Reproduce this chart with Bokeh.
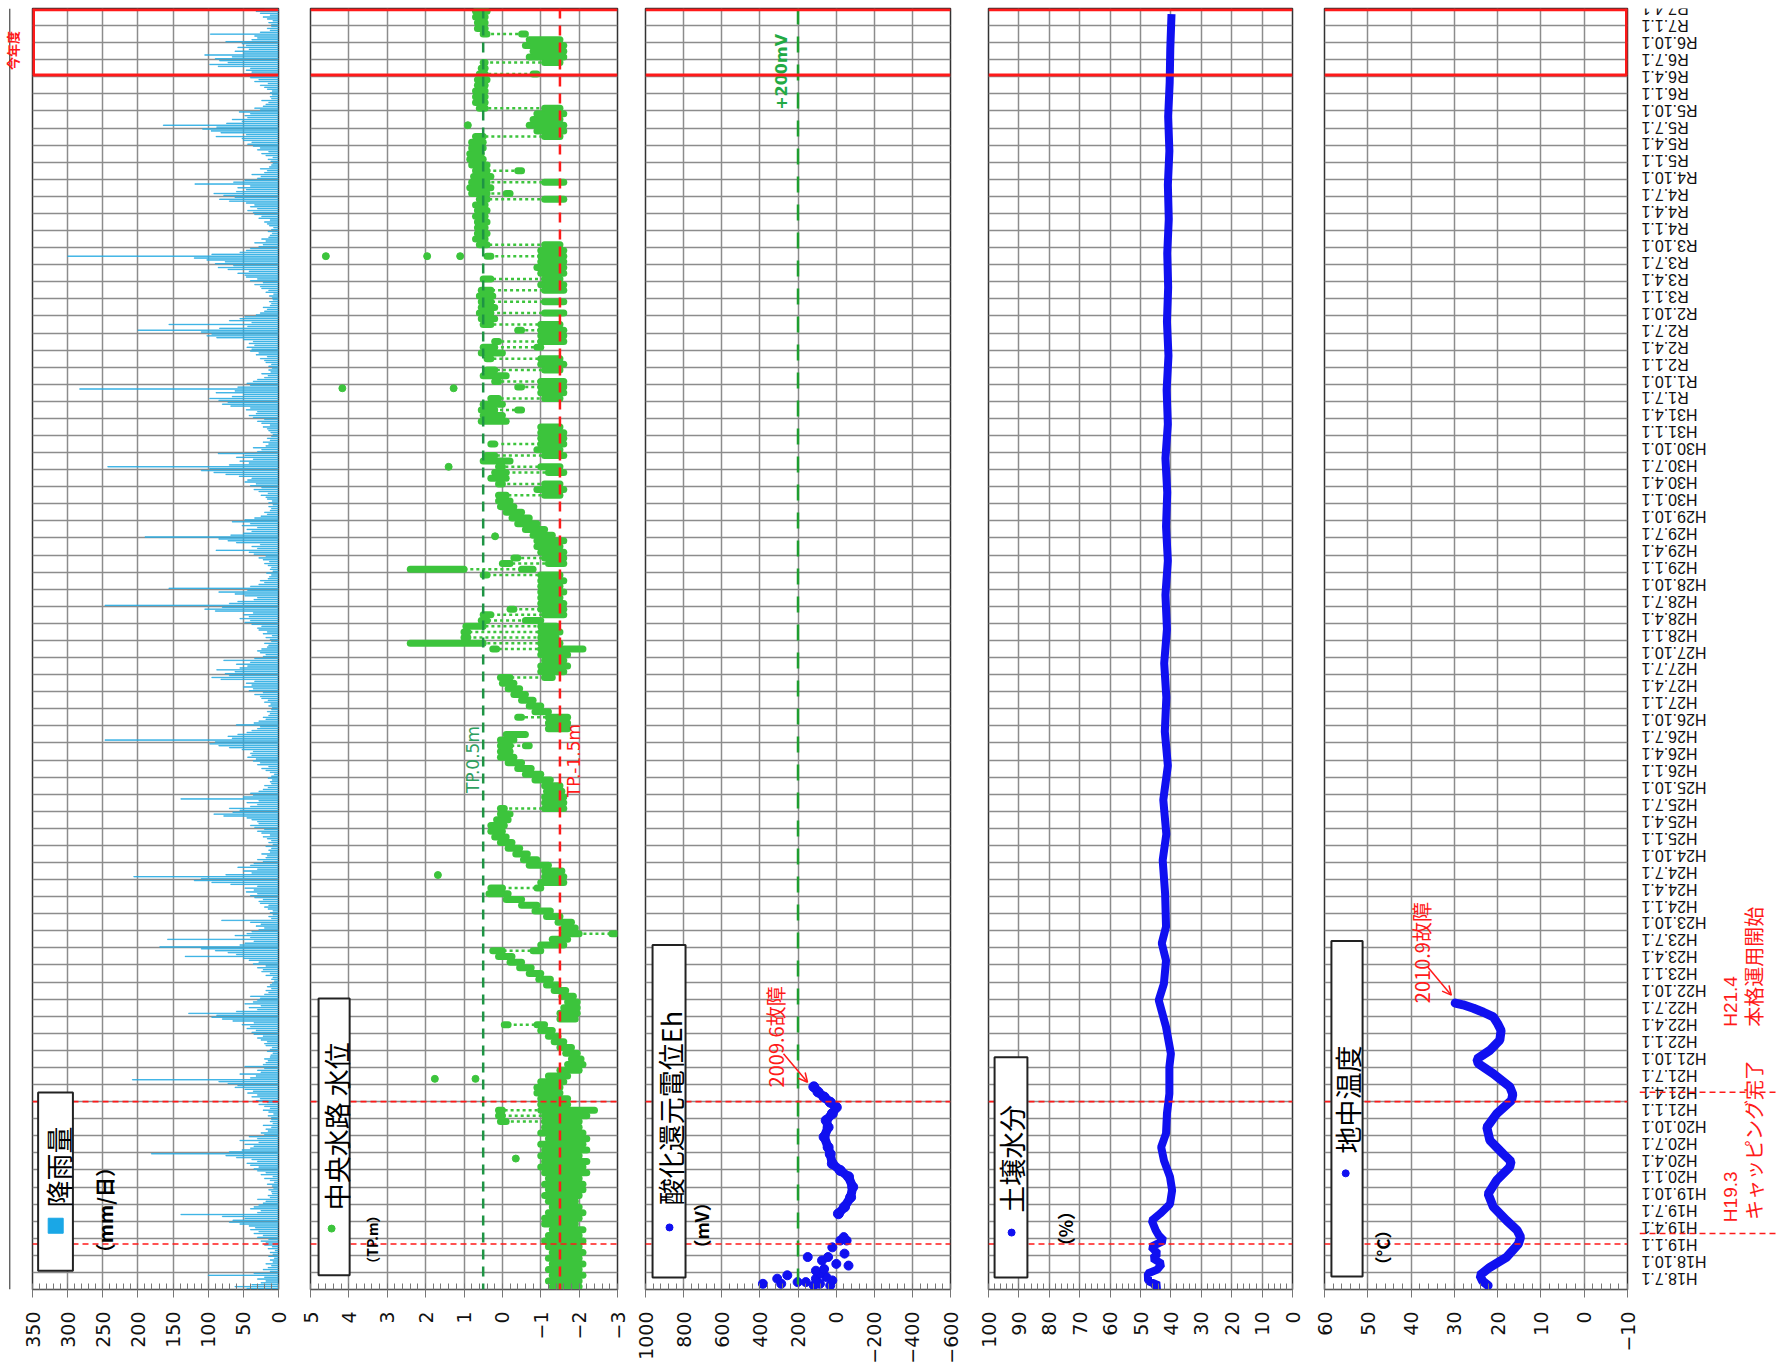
import math
from bokeh.core.properties import value
from bokeh.embed import file_html
from bokeh.resources import INLINE
from bokeh.layouts import row
from bokeh.plotting import figure
from bokeh.models import (Range1d, FixedTicker, SingleIntervalTicker, BoxAnnotation,
                          Label, Span, Arrow, OpenHead)

# ---- data (time axis = months since H18.7.1 / 2006-07-01) ----
# daily rainfall peaks, 3 per month (mm/day)
rain_2006 = [45, 62, 38, 25, 18, 30, 20, 100, 35, 12, 22, 15, 10, 18, 8, 12, 6, 14]
rain_2007 = [8, 12, 5, 15, 9, 20, 18, 25, 14, 30, 22, 35, 28, 40, 33, 42, 55, 70,
             65, 48, 80, 139, 30, 25, 40, 35, 28, 22, 18, 30, 12, 15, 9, 10, 14, 7]
rain_2008 = [9, 16, 6, 12, 20, 8, 25, 18, 30, 35, 28, 40, 45, 30, 38, 60, 75, 181,
             70, 52, 40, 35, 48, 28, 55, 30, 42, 20, 25, 15, 18, 10, 22, 8, 12, 10]
rain_2009 = [10, 15, 7, 14, 22, 12, 20, 28, 16, 32, 26, 38, 30, 44, 36, 48, 62, 58,
             72, 85, 208, 40, 32, 55, 25, 30, 20, 48, 22, 18, 15, 20, 12, 11, 8, 16]
rain_2010 = [12, 9, 18, 20, 16, 25, 30, 22, 35, 38, 32, 45, 40, 52, 35, 65, 80, 95,
             88, 128, 60, 30, 42, 25, 48, 36, 30, 26, 40, 20, 14, 18, 10, 16, 12, 9]
rain_2011 = [6, 10, 8, 18, 12, 24, 22, 30, 18, 36, 28, 42, 50, 133, 60, 72, 90, 110,
             169, 55, 48, 35, 158, 40, 62, 45, 38, 28, 20, 32, 25, 40, 81, 10, 14, 8]
rain_2012 = [12, 8, 15, 20, 14, 26, 28, 22, 34, 40, 30, 46, 35, 48, 30, 68, 95, 120,
             110, 206, 75, 38, 50, 30, 58, 40, 35, 22, 30, 18, 16, 24, 12, 14, 10, 18]
rain_2013 = [8, 14, 10, 16, 22, 12, 24, 30, 20, 34, 40, 28, 30, 38, 45, 78, 92, 65,
             55, 70, 40, 30, 45, 28, 139, 50, 36, 40, 28, 22, 15, 20, 10, 12, 9, 15]
rain_2014 = [10, 6, 12, 18, 24, 14, 30, 26, 36, 32, 44, 38, 40, 36, 52, 70, 85, 98,
             90, 247, 66, 72, 58, 45, 38, 30, 26, 60, 35, 28, 18, 22, 14, 12, 16, 10]
rain_2015 = [9, 14, 11, 20, 15, 24, 26, 34, 22, 42, 36, 50, 38, 46, 34, 82, 95, 70,
             76, 62, 88, 55, 44, 60, 40, 78, 34, 22, 18, 26, 30, 24, 16, 14, 20, 10]
rain_2016 = [12, 18, 9, 22, 16, 28, 30, 24, 38, 48, 40, 55, 42, 50, 36, 90, 105, 80,
             247, 70, 58, 35, 30, 48, 62, 85, 44, 156, 40, 28, 20, 26, 15, 13, 10, 17]
rain_2017 = [8, 12, 10, 15, 20, 13, 22, 28, 18, 35, 42, 89, 30, 38, 26, 60, 72, 85,
             190, 68, 50, 38, 45, 30, 52, 40, 66, 48, 34, 25, 16, 20, 12, 10, 14, 8]
rain_2018 = [14, 9, 16, 18, 25, 15, 28, 35, 24, 40, 32, 48, 44, 38, 56, 75, 92, 110,
             98, 243, 70, 42, 55, 36, 60, 48, 86, 30, 24, 36, 18, 14, 22, 12, 16, 10]
rain_2019 = [8, 11, 14, 16, 22, 12, 24, 30, 20, 36, 42, 32, 30, 46, 40, 68, 80, 72,
             85, 98, 66, 50, 89, 62, 283, 58, 40, 45, 36, 30, 20, 15, 24, 11, 14, 9]
rain_2020 = [14, 10, 18, 20, 26, 16, 32, 28, 40, 38, 45, 34, 42, 36, 50, 88, 102, 95,
             110, 200, 84, 44, 156, 38, 70, 55, 48, 32, 26, 20, 16, 22, 12, 10, 13, 8]
rain_2021 = [9, 13, 7, 18, 14, 24, 26, 34, 22, 40, 30, 46, 48, 58, 42, 72, 86, 64,
             90, 76, 102, 120, 300, 95, 55, 46, 40, 28, 22, 34, 18, 24, 14, 12, 9, 15]
rain_2022 = [10, 7, 13, 16, 20, 12, 28, 24, 34, 36, 44, 30, 40, 34, 46, 70, 84, 62,
             78, 92, 60, 46, 58, 40, 119, 64, 48, 30, 25, 38, 20, 16, 26, 13, 10, 8]
rain_2023 = [11, 15, 8, 18, 24, 14, 30, 26, 36, 44, 38, 50, 52, 89, 46, 82, 96, 108,
             88, 164, 74, 52, 66, 44, 48, 40, 56, 26, 34, 22, 18, 14, 24, 10, 12, 9]
rain_2024 = [12, 9, 16, 20, 26, 15, 34, 28, 40, 42, 50, 38, 46, 40, 86, 98, 72, 84,
             90, 66, 105, 50, 62, 42, 58, 46, 52, 75, 38, 30, 34, 97, 26, 12, 16, 10]
rain_2025 = [10, 14, 8, 16, 22, 12, 26, 32, 20]

# central channel water level (TP.m): main band per month, low / high
wl_lo = [
    -2.0, -2.0, -2.1, -2.0, -2.1, -2.0,                                              # 2006
    -2.1, -2.0, -2.1, -2.0, -2.1, -1.9, -2.0, -2.1, -2.0, -1.9, -2.0, -2.1,          # 2007
    -2.1, -2.0, -2.2, -2.1, -2.2, -2.0, -2.2, -2.1, -2.2, -2.1, -2.0, -2.0,          # 2008
    -2.2, -2.4, -1.7, -1.7, -1.5, -1.5, -1.6, -1.7, -2.0, -2.1, -2.05, -1.95,        # 2009
    -1.8, -1.6, -1.45, -1.3, -1.1, -1.9, -1.95, -1.95, -1.95, -1.85, -1.65, -1.45,   # 2010
    -1.25, -1.0, -0.75, -0.5, -0.25, 0.0, -1.6, -1.7, -2.0, -1.9, -1.8, -1.5,        # 2011
    -1.25, -0.9, -0.5, -0.15, 0.0, -1.6, -1.6, -1.55, -1.2, -0.9, -0.65, -0.45,      # 2012
    -0.25, -0.1, 0.0, -0.05, -0.15, -0.2, -1.6, -1.6, -1.6, -1.55, -1.5, -1.25,      # 2013
    -1.0, -0.75, -0.5, -0.3, -0.2, -0.2, -0.3, -0.6, -1.7, -1.7, -1.7, -1.2,         # 2014
    -1.0, -0.8, -0.6, -0.45, -0.3, -0.2, -1.6, -1.7, -1.6, -1.7, -2.1, -1.5,         # 2015
    -1.4, -1.5, -1.4, -1.0, -1.6, -1.6, -1.6, -1.5, -1.6, -1.5, -1.6, -1.5,          # 2016
    -0.8, -0.2, -1.6, -1.6, -1.5, -1.6, -1.3, -1.1, -0.9, -0.7, -0.5, -0.3,          # 2017
    -0.2, -0.1, -1.6, -1.5, -0.1, -0.1, -1.5, -0.2, 0.2, -1.5, -1.6, -1.6,           # 2018
    -1.6, -1.5, -0.1, 0.0, 0.2, 0.0, 0.1, -1.6, -1.6, -1.6, -0.1, 0.2,               # 2019
    -1.6, -1.5, 0.0, 0.2, -1.6, -1.6, -1.6, -1.5, 0.2, 0.3, 0.2, 0.3,                # 2020
    0.25, 0.3, -1.6, 0.3, -1.6, -1.6, -1.6, -1.6, -1.6, 0.4, 0.45, 0.4,              # 2021
    0.45, 0.4, 0.45, 0.4, 0.45, 0.4, 0.4, 0.3, 0.4, 0.3, 0.4, 0.4,                   # 2022
    0.5, 0.55, 0.5, 0.5, 0.5, -1.6, -1.6, -1.5, -1.6, 0.45, 0.45, 0.45,              # 2023
    0.45, 0.45, 0.4, 0.45, 0.45, 0.45, -1.6, -1.6, -1.6, -1.5, 0.4, 0.45,            # 2024
    0.45, 0.45, 0.4,                                                                 # 2025
]
wl_hi = [
    -1.3, -1.2, -1.3, -1.2, -1.3, -1.2,
    -1.3, -1.2, -1.1, -1.2, -1.3, -1.1, -1.1, -1.2, -1.3, -1.2, -1.1, -1.2,
    -1.1, -1.2, -1.1, -1.0, -1.1, -1.0, -1.1, -1.0, -1.2, -1.0, -1.1, -1.1,
    -1.1, -1.0, -1.0, -1.0, -0.9, -0.9, -1.0, -1.2, -1.5, -1.7, -1.8, -1.65,
    -1.5, -1.35, -1.2, -1.0, -0.9, -1.5, -1.5, -1.6, -1.7, -1.55, -1.35, -1.15,
    -0.95, -0.7, -0.45, -0.2, 0.1, 0.25, -1.0, -1.3, -1.6, -1.6, -1.45, -1.15,
    -0.85, -0.5, -0.1, 0.35, 0.3, -1.0, -1.1, -1.1, -0.7, -0.55, -0.35, -0.15,
    0.05, 0.2, 0.3, 0.3, 0.15, 0.05, -1.1, -1.1, -1.1, -1.15, -1.1, -0.85,
    -0.6, -0.4, -0.15, 0.05, 0.05, 0.05, 0.05, -0.1, -1.2, -1.2, -1.2, -0.85,
    -0.7, -0.5, -0.3, -0.15, 0.0, 0.05, -1.0, -1.0, -1.1, -1.0, -1.0, -1.0,
    -1.0, -1.0, -1.0, -0.6, -1.1, -1.0, -1.0, -1.0, -1.0, -1.0, -1.0, -1.0,
    -0.5, 0.0, -1.1, -1.0, -0.9, -0.9, -0.8, -0.6, -0.4, -0.25, -0.1, 0.05,
    0.1, 0.1, -0.9, -1.1, 0.3, 0.2, -1.0, 0.5, 0.4, -0.9, -1.0, -1.0,
    -1.0, -1.0, 0.55, 0.5, 0.55, 0.5, 0.3, -1.0, -1.0, -1.0, 0.5, 0.4,
    -1.0, -1.0, 0.55, 0.5, -1.0, -1.0, -1.0, -1.0, 0.55, 0.6, 0.55, 0.55,
    0.6, 0.55, -1.0, 0.5, -1.0, -0.9, -1.0, -1.0, -1.0, 0.6, 0.7, 0.65,
    0.65, 0.65, 0.7, 0.65, 0.7, 0.6, 0.8, 0.85, 0.8, 0.75, 0.7, 0.8,
    0.85, 0.85, 0.8, 0.8, 0.7, -0.9, -0.7, -0.8, -0.9, 0.6, 0.7, 0.7,
    0.7, 0.65, 0.65, 0.6, 0.55, 0.5, -0.7, -0.8, -0.6, -0.7, 0.5, 0.65,
    0.65, 0.7, 0.7,
]
# second level reached in the same month (quick rises / falls)
wl2_m = [29, 30, 31, 46, 59, 62, 70, 84, 95, 100, 107, 112, 113, 114, 115, 116, 117,
         118, 119, 125, 126, 127, 128, 139, 141, 143, 144, 146, 148, 154, 156, 158,
         159, 161, 163, 165, 166, 168, 169, 171, 173, 175, 177, 181, 183, 191, 192,
         194, 196, 202, 207, 213, 215, 220]
wl2_lo = [-0.1, 0.0, 0.0, -0.15, -1.0, -2.95, -1.0, -0.05, -0.7, -0.5, -1.3, 0.15, 0.5,
          0.9, 0.9, 0.5, 0.4, 0.3, -0.3, 0.4, 1.0, -1.6, -0.4, -1.5, 0.0, -1.6, 0.0,
          -1.6, 0.2, -0.5, -1.5, -0.5, 0.1, -1.5, 0.3, -1.0, 0.1, -0.5, 0.3, -1.6,
          -1.6, -1.6, -1.5, 0.3, -1.5, -1.6, -0.2, -1.6, -0.5, -1.5, -1.5, -0.9, -1.5,
          -0.6]
wl2_hi = [0.05, 0.1, 0.1, -0.05, -0.8, -2.85, -0.9, 0.05, -0.6, -0.4, -1.1, 0.25, 2.4,
          1.0, 1.0, 0.95, 0.55, 0.5, -0.2, 0.5, 2.4, -1.2, -0.3, -1.1, 0.1, -1.2, 0.1,
          -1.1, 0.3, -0.4, -1.1, -0.4, 0.2, -1.1, 0.4, -0.9, 0.2, -0.4, 0.5, -1.1,
          -1.1, -1.1, -1.1, 0.4, -1.1, -1.1, -0.1, -1.1, -0.4, -1.1, -1.1, -0.8, -1.1,
          -0.5]
wl_out_m = [23.0, 37.0, 37.0, 72.8, 132.3, 144.5, 158.3, 158.3, 181.5, 181.5, 181.5, 204.5]
wl_out_v = [-0.35, 1.76, 0.7, 1.68, 0.19, 1.4, 4.17, 1.27, 4.6, 1.96, 1.1, 0.9]

# redox potential Eh (mV)
eh_pts_m = [0.7, 0.7, 1.0, 1.0, 1.0, 1.3, 1.3, 1.6, 1.9, 1.9, 2.2, 2.5, 2.8, 3.3, 3.6,
            4.2, 4.5, 5.1, 5.7, 5.7, 6.3, 7.4, 8.6, 8.6, 9.2]
eh_pts_v = [31, 117, 384, 288, 85, 202, 159, 20, 309, 106, 52, 256, 85, 106, 63,
            -65, -1, 74, 149, 42, -44, 20, -22, -55, -40]
eh_m = [13.3, 14.5, 16.2, 18.0, 19.8, 20.9, 22.1, 23.8, 25.0, 26.8, 28.5, 29.7,
        30.9, 32.0, 32.9, 33.8, 34.7, 35.6]
eh_v = [-12, -44, -76, -87, -65, -22, 20, 31, 42, 63, 42, 52, 20, -1, 31, 63, 95, 117]

# soil moisture (%)
sm_m = [0.0, 0.7, 1.5, 2.8, 3.5, 4.5, 5.5, 6.3, 7.5, 8.6, 9.5, 10.4, 12.1, 13.3, 15.0,
        17.4, 19.8, 22.7, 25.0, 27.4, 30.9, 34.4, 39.1, 41.4, 46.1, 50.8, 53.7, 57.8,
        60.8, 63.7, 69.5, 75.4, 80, 86, 92, 98, 104, 110, 116, 122, 128, 134, 140,
        146, 152, 158, 164, 170, 176, 182, 188, 194, 200, 206, 212, 218, 221, 224]
sm_v = [46, 44, 47.5, 47.6, 44.5, 43, 46, 44.3, 46.5, 42.3, 44, 45, 46.3, 43.6, 40.3,
        39.6, 40.3, 42.3, 43.2, 41.6, 41.3, 40.5, 40.5, 40, 41.6, 44, 42.3, 41.6,
        43, 41.6, 41.9, 42.7, 41.5, 42.5, 41, 42, 41.5, 42.2, 41.3, 41.8, 41, 41.6, 41.2,
        41.8, 41, 41.4, 40.8, 41.3, 40.9, 41.2, 40.7, 41, 40.5, 40.9, 40.4, 40.2, 40.0, 39.8]

# soil temperature (deg C)
st_m = [0.7, 1.5, 2.5, 3.9, 5.7, 8.0, 9.2, 10.4, 12.1, 14.5, 16.8, 19.2, 21.5, 22.5,
        23.8, 26.2, 28.5, 30.9, 33.2, 34.3, 35.6, 37.9, 39.7, 40.5, 42.0, 43.8, 45.5,
        46.7, 47.9, 48.7, 49.4, 50.0, 50.3]
st_v = [22.2, 23.5, 24.1, 21.8, 17.9, 15.2, 14.7, 15.5, 17.9, 21.0, 22.2, 20.2, 17.2,
        16.9, 18.7, 21.8, 22.5, 20.2, 16.8, 16.5, 17.2, 21.0, 24.5, 24.8, 21.8, 19.5,
        19.2, 20.0, 21.0, 23.3, 25.6, 28.0, 29.8]

# ---- layout ----
H = 1366
TOP, BOTTOM = 8, 77
M_END = 225
BLUE = "#1010F0"
GREEN = "#3CC43C"
RED = "#FF1A1A"
JP = "Noto Sans CJK JP"

quarter_ticks = list(range(0, M_END + 1, 3))
month_ticks = list(range(0, M_END + 1))


def time_label(m):
    year = 2006 + (6 + m) // 12
    month = (6 + m) % 12 + 1
    if (year, month) >= (2019, 5):
        return f"R{year - 2018}.{month}.1"
    return f"H{year - 1988}.{month}.1"


def bare(width, xr, yr, b_top, b_bottom):
    p = figure(width=width, height=H, x_range=Range1d(*xr), y_range=yr,
               x_axis_location=None, y_axis_location=None, toolbar_location=None,
               tools="", output_backend="svg", min_border_left=0, min_border_right=0,
               min_border_top=b_top, min_border_bottom=b_bottom)
    p.outline_line_color = None
    p.xgrid.visible = False
    p.ygrid.visible = False
    return p


def make_panel(width, xr, interval, b_left, b_right):
    p = figure(width=width, height=H, x_range=Range1d(*xr), y_range=Range1d(0, M_END),
               y_axis_location=None, toolbar_location=None,
               tools="", output_backend="svg", min_border_left=b_left,
               min_border_right=b_right, min_border_top=TOP, min_border_bottom=BOTTOM)
    p.outline_line_color = "#333333"
    p.outline_line_width = 1.5
    xt = SingleIntervalTicker(interval=interval, num_minor_ticks=5)
    p.xaxis.ticker = xt
    p.xgrid.ticker = xt
    p.ygrid.ticker = FixedTicker(ticks=quarter_ticks)
    for g in (p.xgrid, p.ygrid):
        g.grid_line_color = "#8c8c8c"
        g.grid_line_width = 1.5
    ax = p.xaxis[0]
    ax.axis_line_color = "#555555"
    ax.major_tick_line_color = "#777777"
    ax.minor_tick_line_color = "#777777"
    ax.major_tick_out = 8
    ax.major_tick_in = 0
    ax.minor_tick_in = 6
    ax.minor_tick_out = 0
    ax.major_label_orientation = math.pi / 2
    ax.major_label_standoff = 14
    ax.major_label_text_font = "DejaVu Sans"
    ax.major_label_text_font_size = "19px"
    ax.major_label_text_color = "#111111"
    return p


def vlabel(p, x, y, text, size, color="black", font=JP, style="normal"):
    p.add_layout(Label(x=x, y=y, text=text, angle=math.pi / 2, text_align="left",
                       text_baseline="middle", text_font=font, text_font_size=size,
                       text_color=color, text_font_style=style))


def legend(p, box, text, tx, ty, unit, ux, uy, usize):
    left, right, bottom, top = box
    p.add_layout(BoxAnnotation(left=left, right=right, bottom=bottom, top=top,
                               fill_color="white", fill_alpha=1.0,
                               line_color="#222222", line_alpha=1.0, line_width=2))
    vlabel(p, tx, ty, text, "27px")
    vlabel(p, ux, uy, unit, usize, style="bold")


def markers(p):
    for loc in (8, 33):
        p.add_layout(Span(location=loc, dimension="width", line_color=RED,
                          line_width=1.6, line_dash="6 4"))
    for loc in (213.3, 224.8):
        p.add_layout(Span(location=loc, dimension="width", line_color=RED, line_width=3))


# far left strip: "今年度" and outer border line
p0 = bare(22, (0, 22), Range1d(0, 1355), 0, H - 1355)
p0.add_layout(Span(location=9.3, dimension="height", line_color="#222222", line_width=1))
p0.add_layout(Label(x=11.5, y=1290, text="今年度", angle=math.pi / 2, text_align="left",
                    text_baseline="middle", text_font=JP, text_font_size="13px",
                    text_color=RED, text_font_style="bold"))

# panel 1: rainfall
p1 = make_panel(272, (350, 0), 50, 10, 16)
rain_years = [rain_2006, rain_2007, rain_2008, rain_2009, rain_2010, rain_2011, rain_2012,
              rain_2013, rain_2014, rain_2015, rain_2016, rain_2017, rain_2018, rain_2019,
              rain_2020, rain_2021, rain_2022, rain_2023, rain_2024, rain_2025]
rain_y, rain_v = [], []
for k, vals in enumerate(rain_years):
    start = 0 if k == 0 else (k * 12 - 6)
    for i, v in enumerate(vals):
        rain_y.append(start + i / 3 + 1 / 6)
        rain_v.append(v)
p1.hbar(y=rain_y, left=0, right=rain_v, height=0.08, fill_color="#2AACE3",
        line_color="#2AACE3", line_width=0.7)
markers(p1)
p1.segment(x0=[350], y0=[213.3], x1=[350], y1=[225], line_color=RED, line_width=5)
legend(p1, (342, 292.5, 3.3, 34.6), "降雨量", 313, 14.4, "（mm/日）", 247, 4.6, "20px")
sq = p1.scatter([317], [11.2], marker="square", size=15, color="#1AA7E6")
sq.level = "overlay"

# panel 2: water level
p2 = make_panel(336, (5, -3), 1, 16, 13)
p2.add_layout(Span(location=0.5, dimension="height", line_color="#1E9444",
                   line_width=2.5, line_dash="10 7"))
p2.add_layout(Span(location=-1.5, dimension="height", line_color=RED,
                   line_width=2.5, line_dash="10 7"))
wl_y = [m + 0.5 for m in range(len(wl_lo))]
wl2_y = [m + 0.5 for m in wl2_m]
wl_mid = [(wl_lo[m] + wl_hi[m]) / 2 for m in wl2_m]
wl2_mid = [(a + b) / 2 for a, b in zip(wl2_lo, wl2_hi)]
p2.segment(x0=wl_mid, y0=wl2_y, x1=wl2_mid, y1=wl2_y, line_color=GREEN, line_width=2.5,
           line_dash="3 3")
p2.segment(x0=wl_lo, y0=wl_y, x1=wl_hi, y1=wl_y, line_color=GREEN, line_width=7,
           line_cap="round")
p2.segment(x0=wl2_lo, y0=wl2_y, x1=wl2_hi, y1=wl2_y, line_color=GREEN, line_width=7,
           line_cap="round")
p2.scatter(wl_out_v, wl_out_m, size=7, color=GREEN)
vlabel(p2, 0.76, 87.2, "TP.0.5m", "17px", color="#2FA060", font="DejaVu Sans")
vlabel(p2, -1.875, 86.5, "TP.-1.5m", "17px", color=RED, font="DejaVu Sans")
markers(p2)
legend(p2, (4.79, 3.98, 2.5, 51.1), "中央水路 水位", 4.32, 13.9, "（TP.m）", 3.39, 3.3, "14px")
d2 = p2.scatter([4.45], [10.7], size=7, color=GREEN)
d2.level = "overlay"

# panel 3: redox potential
p3 = make_panel(338, (1000, -600), 200, 15, 18)
p3.add_layout(Span(location=200, dimension="height", line_color="#1E9E30",
                   line_width=2.5, line_dash="16 12"))
p3.line(eh_v, eh_m, line_color=BLUE, line_width=9)
p3.scatter(eh_v, eh_m, size=10, color=BLUE)
p3.scatter(eh_pts_v, eh_pts_m, size=9, color=BLUE)
vlabel(p3, 286, 207.2, "+200mV", "16px", color="#22AA44", font="DejaVu Sans", style="bold")
vlabel(p3, 318, 35.5, "2009.6故障", "20px", color=RED)
p3.add_layout(Arrow(end=OpenHead(size=9, line_color=RED, line_width=1.5),
                    x_start=276, y_start=41.4, x_end=150, y_end=36.4,
                    line_color=RED, line_width=1.5))
markers(p3)
legend(p3, (963, 790, 2.1, 60.5), "酸化還元電位Eh", 869, 14.8, "（mV）", 711, 5.6, "18px")
d3 = p3.scatter([874], [10.9], size=7, color=BLUE)
d3.level = "overlay"

# panel 4: soil moisture
p4 = make_panel(339, (100, 0), 10, 20, 15)
p4.line(sm_v, sm_m, line_color=BLUE, line_width=8)
markers(p4)
legend(p4, (98.0, 87.2, 2.1, 40.8), "土壌水分", 92.4, 13.5, "（%）", 75.0, 6, "18px")
d4 = p4.scatter([92.4], [10], size=7, color=BLUE)
d4.level = "overlay"

# panel 5: soil temperature
p5 = make_panel(332, (60, -10), 10, 17, 12)
p5.line(st_v, st_m, line_color=BLUE, line_width=9, line_cap="round")
vlabel(p5, 37.6, 50.3, "2010.9故障", "20px", color=RED)
p5.add_layout(Arrow(end=OpenHead(size=9, line_color=RED, line_width=1.5),
                    x_start=36.2, y_start=56.7, x_end=30.7, y_end=51.7,
                    line_color=RED, line_width=1.5))
markers(p5)
p5.segment(x0=[-10], y0=[213.3], x1=[-10], y1=[225], line_color=RED, line_width=5)
legend(p5, (58.4, 51.2, 2.3, 61.2), "地中温度", 54.7, 23.9, "（°C）", 46.6, 2.8, "17px")
d5 = p5.scatter([55.1], [20.4], size=7, color=BLUE)
d5.level = "overlay"

# right strip: shared time scale labels and project milestones
# frame reaches a little lower than the panels so the first date label is not clipped
p6_bottom = 66
p6_start = M_END - (H - TOP - p6_bottom) * M_END / (H - TOP - BOTTOM)
p6 = bare(137, (0, 137), Range1d(p6_start, M_END), TOP, p6_bottom)
p6.text(x=2, y=quarter_ticks, text=[time_label(m) for m in quarter_ticks],
        angle=math.pi, text_align="right", text_baseline="middle",
        text_font=value("Liberation Sans"), text_font_size="16px", text_color="#111111")
for loc in (8, 33):
    p6.add_layout(Span(location=loc, dimension="width", line_color=RED,
                       line_width=1.6, line_dash="6 4"))
vlabel(p6, 91, 10.0, "H19.3", "19px", color=RED, font="Liberation Sans")
vlabel(p6, 114, 10.4, "キャッピング完了", "20px", color=RED)
vlabel(p6, 91, 44.6, "H21.4", "19px", color=RED, font="Liberation Sans")
vlabel(p6, 114, 44.6, "本格運用開始", "20px", color=RED)

layout = row(p0, p1, p2, p3, p4, p5, p6)
open("out.html", "w").write(file_html(layout, INLINE))
